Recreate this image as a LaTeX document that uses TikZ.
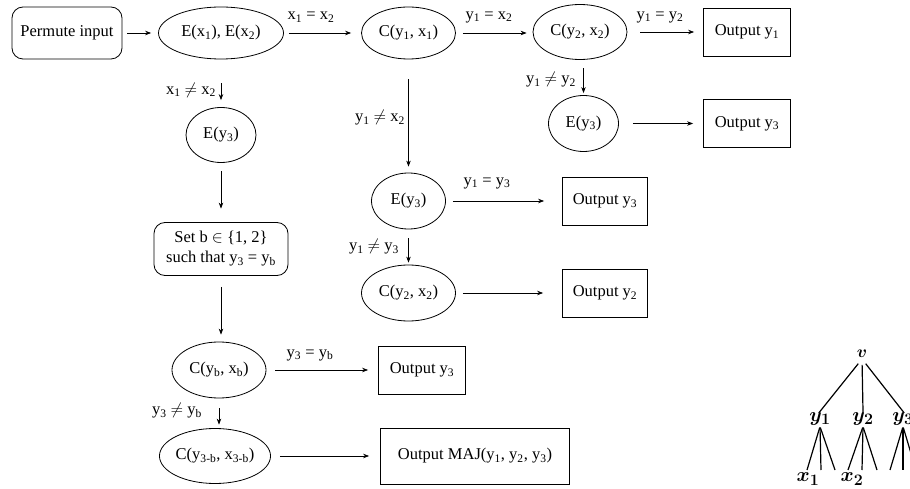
\RequirePackage{fix-cm}
\documentclass[tikz,border=0pt]{standalone}
\usepackage{fontspec}
\setmainfont{Liberation Serif}
\DeclareMathSizes{20}{20}{16}{12}
\usetikzlibrary{arrows.meta,shapes.geometric}
\newcommand{\sbs}[1]{\textsubscript{#1}}
\begin{document}
\begin{tikzpicture}[x=1pt,y=-1pt,
  font=\fontsize{16.5}{20}\selectfont,
  ell/.style={ellipse, draw, line width=0.8pt, inner sep=0pt},
  rbox/.style={rectangle, rounded corners=11pt, draw, line width=0.8pt, align=center, inner sep=2pt},
  obox/.style={rectangle, draw, line width=0.8pt},
  arr/.style={-{Stealth[length=6pt,width=4.5pt]}, line width=0.7pt},
  lbl/.style={inner sep=0pt},
  tnode/.style={inner sep=1pt, font=\fontsize{20}{24}\selectfont\boldmath},
  tline/.style={line width=1.2pt}]
\useasboundingbox (0,0) rectangle (910,489);
\fill[white] (0,0) rectangle (910,489);
\clip (0,0) rectangle (910,489);

% nodes
\node[rbox, minimum width=110, minimum height=52] (perm) at (67,33) {Permute input};
\node[ell, minimum width=125, minimum height=52] (e12) at (221,33) {E(x\sbs1), E(x\sbs2)};
\node[ell, minimum width=94, minimum height=52] (c11) at (408.5,33) {C(y\sbs1, x\sbs1)};
\node[ell, minimum width=94, minimum height=55] (c22) at (580,32) {C(y\sbs2, x\sbs2)};
\node[obox, minimum width=87, minimum height=48] (out1) at (747,32) {Output y\sbs1};
\node[ell, minimum width=70, minimum height=56] (e3r) at (583.5,123.5) {E(y\sbs3)};
\node[obox, minimum width=87, minimum height=48] (out3r) at (747,123.5) {Output y\sbs3};
\node[ell, minimum width=70, minimum height=55] (e3l) at (221,135) {E(y\sbs3)};
\node[rbox, minimum width=134, minimum height=53] (setb) at (221,249) {Set b $\in$ \{1, 2\}\\such that y\sbs3 = y\sbs{b}};
\node[ell, minimum width=74, minimum height=56] (e3m) at (408.5,201) {E(y\sbs3)};
\node[obox, minimum width=85, minimum height=48] (out3m) at (605,201) {Output y\sbs3};
\node[ell, minimum width=94, minimum height=56] (c22m) at (408.5,293) {C(y\sbs2, x\sbs2)};
\node[obox, minimum width=85, minimum height=48] (out2) at (605,293) {Output y\sbs2};
\node[ell, minimum width=94, minimum height=56] (cbb) at (219,370) {C(y\sbs{b}, x\sbs{b})};
\node[obox, minimum width=87, minimum height=48] (out3b) at (422,370) {Output y\sbs3};
\node[ell, minimum width=106, minimum height=55] (c3b) at (215,456) {C(y\sbs{3-b}, x\sbs{3-b})};
\node[obox, minimum width=189, minimum height=56] (maj) at (475,456) {Output MAJ(y\sbs1, y\sbs2, y\sbs3)};

% labels
\node[lbl] (l1) at (311,17) {x\sbs1 = x\sbs2};
\node[lbl] (l2) at (489,17) {y\sbs1 = x\sbs2};
\node[lbl] (l3) at (660,17) {y\sbs1 = y\sbs2};
\node[lbl] (l4) at (191,90) {x\sbs1 $\neq$ x\sbs2};
\node[lbl] (l5) at (380,118) {y\sbs1 $\neq$ x\sbs2};
\node[lbl] (l6) at (551,80) {y\sbs1 $\neq$ y\sbs2};
\node[lbl] (l7) at (487,183) {y\sbs1 = y\sbs3};
\node[lbl] (l8) at (374,247) {y\sbs1 $\neq$ y\sbs3};
\node[lbl] (l9) at (310,355) {y\sbs3 = y\sbs{b}};
\node[lbl] (l10) at (177,411) {y\sbs3 $\neq$ y\sbs{b}};

% horizontal arrows
\draw[arr, shorten <=5, shorten >=7] (perm.east) -- (e12.west);
\draw[arr, shorten <=5, shorten >=10] (e12.east) -- (c11.west);
\draw[arr, shorten <=7, shorten >=6] (c11.east) -- (c11.east -| c22.west);
\draw[arr, shorten <=13, shorten >=9] (c22.east) -- (out1.west);
\draw[arr, shorten <=14, shorten >=10] (e3r.east) -- (out3r.west);
\draw[arr, shorten <=7, shorten >=18] (e3m.east) -- (out3m.west);
\draw[arr, shorten <=7, shorten >=19] (c22m.east) -- (out2.west);
\draw[arr, shorten <=9, shorten >=10] (cbb.east) -- (out3b.west);
\draw[arr, shorten <=9, shorten >=11] (c3b.east) -- (maj.west);

% vertical arrows
\draw[arr, shorten <=24, shorten >=7] (e12.south) -- (e3l.north);
\draw[arr, shorten <=20, shorten >=6] (c11.south) -- (e3m.north);
\draw[arr, shorten <=8.5, shorten >=2] (c22.south -| e3r.north) -- (e3r.north);
\draw[arr, shorten <=8.5, shorten >=13.5] (e3l.south) -- (setb.north);
\draw[arr, shorten <=9, shorten >=2] (e3m.south) -- (c22m.north);
\draw[arr, shorten <=11, shorten >=7] (setb.south) -- (setb.south |- cbb.north);
\draw[arr, shorten <=10, shorten >=3.5] (cbb.south) -- (cbb.south |- c3b.north);

% tree
\node[tnode, font=\fontsize{17}{20}\selectfont\boldmath] (tv) at (862,354) {$v$};
\node[tnode] (ty1) at (820,419) {$y_1$};
\node[tnode] (ty2) at (863,419) {$y_2$};
\node[tnode] (ty3) at (903,419) {$y_3$};
\coordinate (a1) at (807,470);
\coordinate (a2) at (821,470);
\coordinate (a3) at (835,470);
\coordinate (b1) at (848,470);
\coordinate (b2) at (862,470);
\coordinate (b3) at (877,470);
\coordinate (c1) at (890,470);
\coordinate (c2) at (903,470);
\coordinate (c3) at (916,470);
\node[tnode] (tx1) at (808,479) {$x_1$};
\node[tnode] (tx2) at (852,479) {$x_2$};
\draw[tline, shorten <=6, shorten >=-2] (tv.south) -- (ty1.north);
\draw[tline, shorten <=6, shorten >=-2] (tv.south) -- (ty2.north);
\draw[tline, shorten <=6, shorten >=-2] (tv.south) -- (ty3.north);
\foreach \p/\q in {ty1/a1, ty1/a2, ty1/a3, ty2/b1, ty2/b2, ty2/b3, ty3/c1, ty3/c2, ty3/c3}
  \draw[tline, shorten <=1] (\p.south) -- (\q);
\end{tikzpicture}
\end{document}
